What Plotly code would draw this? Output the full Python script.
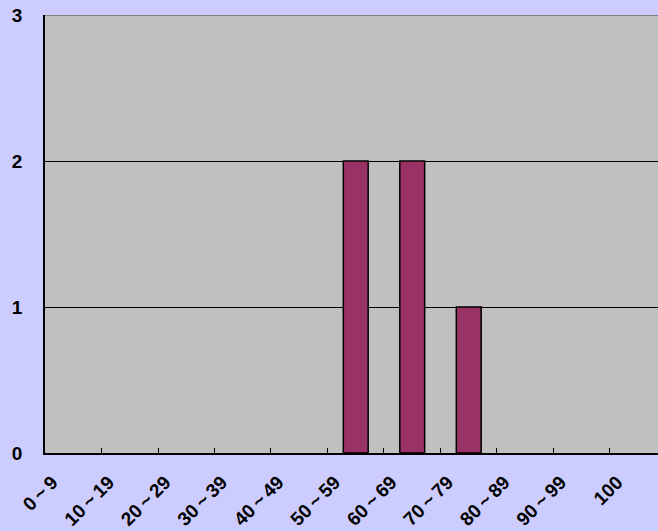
import plotly.graph_objects as go

categories = ["0\u2009~\u20099", "10\u2009~\u200919", "20\u2009~\u200929", "30\u2009~\u200939", "40\u2009~\u200949",
              "50\u2009~\u200959", "60\u2009~\u200969", "70\u2009~\u200979", "80\u2009~\u200989", "90\u2009~\u200999", "100"]
counts = [0, 0, 0, 0, 0, 2, 2, 1, 0, 0, 0]
y_ticks = [0, 1, 2, 3]

fig = go.Figure()
fig.add_trace(go.Bar(
    x=categories, y=[c if c else None for c in counts], width=0.44,
    marker=dict(color="#993366", line=dict(color="black", width=1.5)),
))

FAM = "Liberation Sans, Arial, Noto Sans CJK JP, sans-serif"

fig.update_layout(
    width=658, height=531,
    margin=dict(l=45, r=0, t=15, b=78, autoexpand=False),
    paper_bgcolor="#CCCCFF",
    plot_bgcolor="#C0C0C0",
    showlegend=False,
    font=dict(family=FAM, size=17, color="black", weight="bold"),
)
fig.update_xaxes(
    type="category",
    range=[-0.5, 10.35],
    automargin=False,
    tickangle=-45,
    tickson="boundaries",
    ticks="inside", ticklen=5, tickcolor="black", tickwidth=1,
    showline=True, linecolor="black", linewidth=1.5,
    showgrid=False,
    ticklabelstandoff=9,
    ticklabelshift=-21,
    tickfont=dict(family=FAM, size=19, color="black", weight="bold"),
    fixedrange=True,
)
fig.update_yaxes(
    range=[0, 3],
    tickvals=y_ticks,
    automargin=False,
    showgrid=True, gridcolor="black", gridwidth=1,
    showline=True, linecolor="black", linewidth=1.5,
    zeroline=False,
    ticks="",
    ticklabelstandoff=17,
    tickfont=dict(family=FAM, size=19, color="black", weight="bold"),
    fixedrange=True,
)
fig.add_shape(type="line", xref="paper", yref="y", x0=0, x1=1, y0=3, y1=3,
              line=dict(color="#808080", width=2))
fig.write_html("out.html", config={"displayModeBar": False},
               post_script="document.body.style.margin='0';document.body.style.overflow='hidden';")
